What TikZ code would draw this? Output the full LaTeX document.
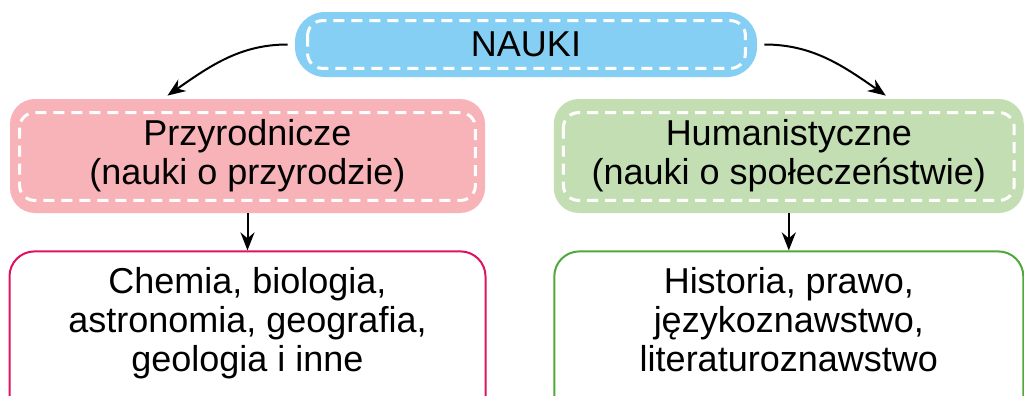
\documentclass[tikz,border=0pt]{standalone}
\usepackage{fontspec}
\setmainfont{Liberation Sans}
\usetikzlibrary{arrows.meta}
\usetikzlibrary{positioning}

\definecolor{naukiblue}{HTML}{86CFF4}
\definecolor{przyrpink}{HTML}{F8B3B8}
\definecolor{humangreen}{HTML}{C4DEB3}
\definecolor{chemred}{HTML}{E0115F}
\definecolor{histgreen}{HTML}{4DA939}

\tikzset{
  boxtext/.style={align=center, inner sep=0pt, font=\fontsize{18}{19.5}\selectfont},
  headbox/.style={boxtext, rounded corners=12.5pt, minimum width=237.5pt, minimum height=57pt},
  listbox/.style={boxtext, rounded corners=12.5pt, line width=1pt, fill=white,
    minimum width=238pt, minimum height=86pt, text depth=18pt},
  innerdash/.style={white, line width=1.5pt, dash pattern=on 5.5pt off 3.5pt, rounded corners=7.5pt},
  arrow/.style={-{Stealth[length=9pt,width=7pt]}, line width=1pt},
}

\begin{document}
\begin{tikzpicture}[x=0.5pt,y=-0.5pt]
    \useasboundingbox (0,0) rectangle (1024,396);

    \node[boxtext, fill=naukiblue, rounded corners=15pt, minimum width=231pt, minimum height=32.5pt] (nauki) at (526,44.5) {NAUKI};
    \node[headbox, fill=przyrpink] (przyr) at (247.5,156) {Przyrodnicze\\(nauki o przyrodzie)};
    \node[headbox, fill=humangreen, minimum width=235pt, right=34pt of przyr] (human) {Humanistyczne\\(nauki o społeczeństwie)};

    \node[listbox, draw=chemred, below=18.5pt of przyr] (chem) {Chemia, biologia,\\astronomia, geografia,\\geologia i inne};
    \node[listbox, draw=histgreen, minimum width=234.5pt, below=18.5pt of human] (hist) {Historia, prawo,\\językoznawstwo,\\literaturoznawstwo};

    % white dashed frames inside the coloured boxes
    \draw[innerdash] ([shift={(6.5pt,-4.5pt)}]nauki.north west) rectangle ([shift={(-6pt,4.5pt)}]nauki.south east);
    \foreach \n in {przyr,human}
      \draw[innerdash] ([shift={(5pt,-7pt)}]\n.north west) rectangle ([shift={(-5pt,6.5pt)}]\n.south east);

    \coordinate (ltip) at ([xshift=-40pt,yshift=1.5pt]przyr.north);
    \coordinate (rtip) at ([xshift=48.5pt,yshift=1.5pt]human.north);

    \draw[arrow, shorten <=3.5pt] (nauki.west) to[out=180,in=35] (ltip);
    \draw[arrow, shorten <=3.5pt] (nauki.east) to[out=0,in=145] (rtip);
    \draw[arrow] (przyr) -- (chem);
    \draw[arrow] (human) -- (hist);
\end{tikzpicture}
\end{document}
